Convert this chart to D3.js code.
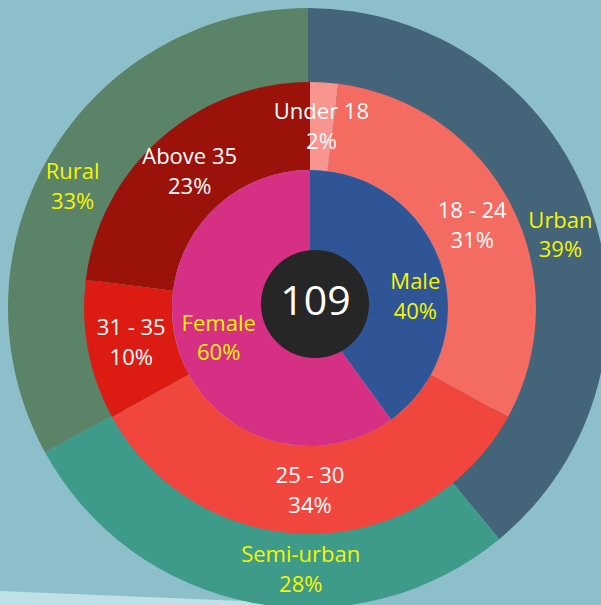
<!DOCTYPE html>
<html>
<head>
<meta charset="utf-8">
<script src="https://cdn.jsdelivr.net/npm/d3@7"></script>
<style>
  body { margin: 0; background: #8cbfca; }
  svg { display: block; }
  text { font-family: "Open Sans", sans-serif; }
</style>
</head>
<body>
<svg></svg>
<script>
// chart values
var areaNames = ["Urban", "Semi-urban", "Rural"];
var areaPct = [39, 28, 33];

var ageNames = ["Under 18", "18 - 24", "25 - 30", "31 - 35", "Above 35"];
var agePct = [2, 31, 34, 10, 23];

var genderNames = ["Male", "Female"];
var genderPct = [40, 60];

var total = 109;

var areaColors = ["#44647a", "#3e9b89", "#5a8368"];
var ageColors = ["#f7958e", "#f46b62", "#f1463e", "#dc1c12", "#9b120a"];
var genderColors = ["#2f5597", "#d63085"];

var screen = {width: 601, height: 605};
var center = {x: 310, y: 308};
var outerCenter = {x: 308, y: 308};

// label nudges, where the original tool moved labels off the centroid
var nudge = {
    "Urban": [5, 16],
    "Rural": [-9, 12],
    "Semi-urban": [42, 3],
    "Male": [14, 18]
};

var svg = d3.select("svg")
    .attr("width", screen.width)
    .attr("height", screen.height);

// lighter patch in the bottom left corner
svg.append("path")
    .attr("d", "M0,591L345,605L0,605Z")
    .attr("fill", "#bfe0e6");

var pie = d3.pie().sort(null).value(function(d) { return d.value; });

var makeRows = function(names, values) {
    return names.map(function(n, i) { return {name: n, value: values[i], i: i}; });
};

var drawRing = function(pos, rows, colors, r0, r1, textColor, labelR0) {
    var g = svg.append("g")
        .attr("transform", "translate(" + pos.x + "," + pos.y + ")");
    var arc = d3.arc().innerRadius(r0).outerRadius(r1);
    var labelArc = d3.arc().innerRadius(labelR0 == null ? r0 : labelR0).outerRadius(r1);
    var arcs = pie(rows);

    g.append("g").selectAll("path")
        .data(arcs)
        .enter()
        .append("path")
        .attr("d", arc)
        .attr("fill", function(d) { return colors[d.data.i]; });

    var labels = g.append("g").selectAll("text")
        .data(arcs)
        .enter()
        .append("text")
        .attr("text-anchor", "middle")
        .attr("fill", textColor)
        .style("font-size", "22px")
        .attr("transform", function(d) {
            var c = labelArc.centroid(d);
            var n = nudge[d.data.name] || [0, 0];
            return "translate(" + (c[0] + n[0]) + "," + (c[1] + n[1]) + ")";
        });

    labels.append("tspan")
        .attr("x", 0)
        .attr("y", -7)
        .text(function(d) { return d.data.name; });
    labels.append("tspan")
        .attr("x", 0)
        .attr("y", 22.5)
        .text(function(d) { return d.data.value + "%"; });
};

// outer ring reaches under the middle one so no gap shows between them
drawRing(outerCenter, makeRows(areaNames, areaPct), areaColors, 210, 300, "#f5f500", 226);
drawRing(center, makeRows(ageNames, agePct), ageColors, 138, 226, "#ffffff");
drawRing(center, makeRows(genderNames, genderPct), genderColors, 0, 138, "#f5f500", 54);

// centre total
svg.append("circle")
    .attr("cx", center.x + 5)
    .attr("cy", center.y - 4)
    .attr("r", 54)
    .attr("fill", "#262626");

svg.append("text")
    .attr("x", center.x + 5.5)
    .attr("y", center.y + 7)
    .attr("text-anchor", "middle")
    .attr("fill", "#ffffff")
    .style("font-size", "41px")
    .text(total);
</script>
</body>
</html>
